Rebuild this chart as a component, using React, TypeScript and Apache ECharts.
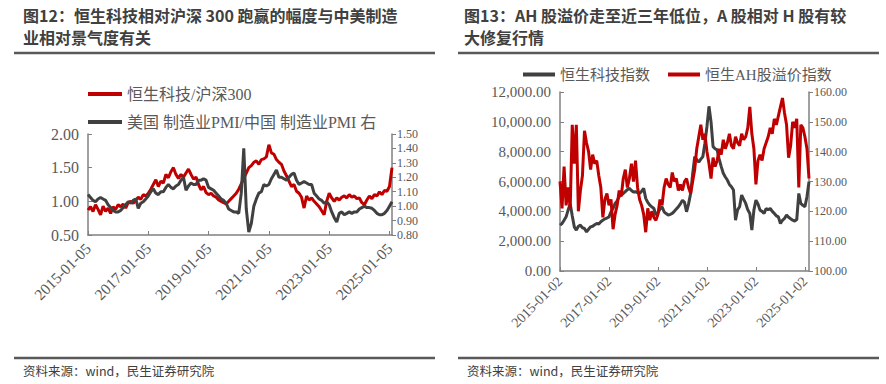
import { useEffect, useRef } from 'react';
import * as echarts from 'echarts';

// ---------- categories ----------
const pad = (n: number) => String(n).padStart(2, '0');
const leftDates: string[] = [];
for (let m = 0; m < 122; m++) leftDates.push(`${2015 + Math.floor(m / 12)}-${pad((m % 12) + 1)}-05`);
const rightDates: string[] = [];
for (let m = 0; m < 123; m++) rightDates.push(`${2015 + Math.floor(m / 12)}-${pad((m % 12) + 1)}-02`);

// ---------- left chart data ----------
const hstechVsHs300 = [
  0.87, 0.92, 0.85, 0.95, 0.88, 0.80, 0.93, 0.85, 0.90, 0.82, 0.92, 0.88,
  0.95, 0.92, 0.96, 0.90, 0.98, 1.00, 0.97, 1.02, 1.06, 1.03, 1.10, 1.08,
  1.12, 1.18, 1.25, 1.32, 1.22, 1.30, 1.27, 1.40, 1.35, 1.44, 1.50, 1.40,
  1.34, 1.40, 1.36, 1.42, 1.48, 1.40, 1.33, 1.36, 1.25, 1.17, 1.22, 1.13,
  1.10, 1.12, 1.08, 1.06, 1.02, 1.00, 0.98, 0.96, 1.00, 1.04, 1.08, 1.12,
  1.18, 1.26, 1.34, 1.42, 1.50, 1.53, 1.58, 1.60, 1.55, 1.62, 1.63, 1.66,
  1.84, 1.72, 1.70, 1.62, 1.58, 1.55, 1.45, 1.38, 1.30, 1.22, 1.25, 1.15,
  1.12, 1.06, 0.90, 1.08, 1.02, 1.05, 1.00, 0.96, 0.92, 0.86, 0.80, 1.00,
  1.12, 1.05, 1.00, 1.05, 1.02, 1.06, 1.08, 1.05, 1.10, 1.06, 1.08, 1.04,
  1.05, 0.98, 0.95, 1.02, 1.08, 1.04, 1.10, 1.08, 1.14, 1.10, 1.16, 1.15,
  1.22, 1.50,
];
const pmiRatio = [
  1.08, 1.06, 1.04, 1.03, 1.05, 1.06, 1.05, 1.04, 1.01, 0.99, 0.97, 0.96,
  0.96, 0.97, 0.99, 1.01, 1.03, 1.02, 1.04, 1.05, 0.985, 1.02, 1.03, 1.05,
  1.07, 1.10, 1.12, 1.09, 1.08, 1.10, 1.10, 1.13, 1.15, 1.13, 1.12, 1.14,
  1.15, 1.18, 1.20, 1.11, 1.14, 1.16, 1.15, 1.15, 1.18, 1.18, 1.19, 1.18,
  1.13, 1.12, 1.11, 1.09, 1.07, 1.05, 1.04, 1.02, 0.98, 0.97, 0.96, 0.96,
  0.95, 1.09, 1.40, 0.98, 0.82, 0.88, 1.00, 1.05, 1.09, 1.10, 1.15, 1.14,
  1.15, 1.19, 1.22, 1.25, 1.20, 1.20, 1.19, 1.18, 1.20, 1.22, 1.23, 1.18,
  1.15, 1.16, 1.17, 1.16, 1.15, 1.15, 1.09, 1.07, 1.05, 1.04, 1.02, 1.03,
  1.01, 0.96, 0.92, 0.89, 0.95, 0.96, 0.94, 0.95, 0.96, 0.95, 0.96, 0.96,
  0.98, 0.99, 1.00, 0.99, 0.99, 0.985, 0.97, 0.95, 0.94, 0.94, 0.95, 0.97,
  1.00, 1.03,
];

// ---------- right chart data ----------
const hstechIndex = [
  3070, 3180, 3400, 3630, 4100, 4500, 3700, 2960, 2740, 3000, 3070, 2900,
  2850, 2620, 2800, 2960, 3000, 3100, 3180, 3150, 3300, 3410, 3500, 3550,
  3630, 3970, 4200, 4530, 4700, 4980, 5100, 5200, 5320, 5450, 5540, 5400,
  5300, 5320, 5250, 5200, 5350, 5540, 4870, 4600, 4420, 4300, 4190, 3750,
  3900, 4150, 4310, 3970, 3850, 3750, 3800, 3860, 4000, 4150, 4310, 4500,
  4750, 4600, 3970, 4500, 5200, 6500, 7670, 7450, 7300, 7500, 7670, 8570,
  9690, 11040, 10000, 8340, 8200, 8120, 7500, 7000, 6550, 6300, 6100, 5800,
  5650, 5430, 3410, 4100, 4310, 5090, 4800, 4530, 4100, 3860, 2740, 4080,
  4750, 4500, 4080, 4000, 3860, 4190, 4100, 4190, 4000, 3860, 3700, 3630,
  3180, 3400, 3520, 3750, 3600, 3500, 3410, 3350, 3450, 5200, 4530, 4400,
  4310, 4980, 5990,
];
const ahPremium = [
  130, 121, 135, 122, 128, 121, 149, 136, 149, 120, 127, 132,
  147, 143, 140, 134, 139, 136, 137, 132, 128, 118, 124, 126,
  122, 124, 114, 119, 122, 127, 125, 131, 134, 128, 131, 136,
  130, 137, 128, 124, 122, 119, 113, 121, 117, 120, 118, 117,
  119, 124, 122, 128, 131, 129, 128, 133, 130, 131, 127, 129,
  127, 130, 131, 128, 126, 130, 134, 141, 145, 149, 144, 146,
  140, 136, 131, 138, 135, 137, 141, 139, 144, 141, 143, 146,
  142, 141, 145, 143, 142, 146, 144, 145, 148, 155, 146, 141,
  129, 137, 139, 137, 141, 143, 145, 148, 146, 151, 149, 152,
  155, 158, 153, 149, 138, 142, 150, 148, 151, 128, 149, 148,
  145, 141, 131,
];

const names = {
  l1: '恒生科技/沪深300',
  l2: '美国 制造业PMI/中国 制造业PMI 右',
  r1: '恒生科技指数',
  r2: '恒生AH股溢价指数',
};

const leftTitle = ['图12：恒生科技相对沪深 300 跑赢的幅度与中美制造', '业相对景气度有关'];
const rightTitle = ['图13：AH 股溢价走至近三年低位，A 股相对 H 股有较', '大修复行情'];
const sourceNote = '资料来源：wind，民生证券研究院';

const RED = '#C00000';
const GRAY = '#404040';
const AXIS = '#808080';
const LABEL = '#595959';
const SERIF = '"Liberation Serif", "Times New Roman", "Noto Sans CJK SC", serif';
const SANS = '"Noto Sans CJK SC", "Noto Sans", sans-serif';

const everyTwoYears = (i: number) => i % 24 === 0;

function catAxis(gridIndex: number, data: string[], fontSize: number, margin: number) {
  return {
    type: 'category',
    gridIndex,
    data,
    boundaryGap: false,
    axisLine: { lineStyle: { color: AXIS, width: 1.5 } },
    axisTick: { inside: true, length: 4, interval: everyTwoYears, lineStyle: { color: AXIS } },
    axisLabel: {
      interval: everyTwoYears,
      rotate: 45,
      margin,
      color: LABEL,
      fontFamily: SERIF,
      fontSize,
    },
    splitLine: { show: false },
  };
}

function valAxis(
  gridIndex: number,
  position: 'left' | 'right',
  min: number,
  max: number,
  interval: number,
  fontSize: number,
  fmt: (v: number) => string,
) {
  return {
    type: 'value',
    gridIndex,
    position,
    min,
    max,
    interval,
    axisLine: { show: true, lineStyle: { color: AXIS, width: 1.5 } },
    axisTick: { show: true, inside: position === 'left', length: 4, lineStyle: { color: AXIS } },
    axisLabel: { color: LABEL, fontFamily: SERIF, fontSize, margin: position === 'left' ? 9 : 5, formatter: fmt },
    splitLine: { show: false },
  };
}

const titleFont = { fontFamily: SANS, fontWeight: 'bold', fontSize: 16, fill: '#404040' };
const srcFont = { fontFamily: SANS, fontSize: 12.5, fill: '#404040' };

function txt(text: string, x: number, y: number, style: any) {
  return {
    type: 'text',
    x,
    y,
    style: { text, ...style, verticalAlign: 'middle', textVerticalAlign: 'middle' },
  };
}
function hline(x1: number, x2: number, y: number) {
  return { type: 'line', shape: { x1, y1: y, x2, y2: y }, style: { stroke: '#595959', lineWidth: 2.5 } };
}

export default function App() {
  const ref = useRef<HTMLDivElement>(null);
  useEffect(() => {
    if (!ref.current) return;
    const chart = echarts.init(ref.current, undefined, { renderer: 'svg' });
    chart.setOption({
      animation: false,
      backgroundColor: '#ffffff',
      grid: [
        { left: 88, top: 134, width: 304, height: 101 },
        { left: 560, top: 92, width: 249, height: 179 },
      ],
      legend: [
        {
          data: [names.l1, names.l2],
          orient: 'vertical',
          left: 83,
          top: 81,
          itemWidth: 34,
          itemHeight: 4,
          itemGap: 12,
          itemTextGap: 3,
          icon: 'rect',
          textStyle: { color: LABEL, fontFamily: SERIF, fontSize: 16 },
        },
        {
          data: [names.r1, names.r2],
          orient: 'horizontal',
          left: 518,
          top: 62,
          itemWidth: 32,
          itemHeight: 4,
          itemGap: 18,
          itemTextGap: 3,
          icon: 'rect',
          textStyle: { color: LABEL, fontFamily: SERIF, fontSize: 15 },
        },
      ],
      xAxis: [catAxis(0, leftDates, 15.5, 11), catAxis(1, rightDates, 14, 8)],
      yAxis: [
        valAxis(0, 'left', 0.5, 2, 0.5, 16, (v) => v.toFixed(2)),
        valAxis(0, 'right', 0.8, 1.5, 0.1, 12, (v) => v.toFixed(2)),
        valAxis(1, 'left', 0, 12000, 2000, 15, (v) =>
          v.toLocaleString('en-US', { minimumFractionDigits: 2, maximumFractionDigits: 2 }),
        ),
        valAxis(1, 'right', 100, 160, 10, 12, (v) => v.toFixed(2)),
      ],
      series: [
        {
          name: names.l1, type: 'line', xAxisIndex: 0, yAxisIndex: 0, data: hstechVsHs300,
          showSymbol: false, lineStyle: { color: RED, width: 3 }, itemStyle: { color: RED },
        },
        {
          name: names.l2, type: 'line', xAxisIndex: 0, yAxisIndex: 1, data: pmiRatio,
          showSymbol: false, lineStyle: { color: GRAY, width: 3 }, itemStyle: { color: GRAY },
        },
        {
          name: names.r1, type: 'line', xAxisIndex: 1, yAxisIndex: 2, data: hstechIndex,
          showSymbol: false, lineStyle: { color: GRAY, width: 3 }, itemStyle: { color: GRAY },
        },
        {
          name: names.r2, type: 'line', xAxisIndex: 1, yAxisIndex: 3, data: ahPremium,
          showSymbol: false, lineStyle: { color: RED, width: 3 }, itemStyle: { color: RED },
        },
      ],
      graphic: [
        txt(leftTitle[0], 23, 15, titleFont),
        txt(leftTitle[1], 23, 37, titleFont),
        hline(14, 435, 53),
        txt(rightTitle[0], 464, 15, titleFont),
        txt(rightTitle[1], 464, 37, titleFont),
        hline(458, 879, 53),
        hline(14, 435, 358),
        txt(sourceNote, 23, 370, srcFont),
        hline(458, 879, 358),
        txt(sourceNote, 467, 370, srcFont),
      ],
    });
    return () => chart.dispose();
  }, []);
  return <div ref={ref} style={{ position: 'absolute', left: 0, top: 0, width: 886, height: 384 }} />;
}
